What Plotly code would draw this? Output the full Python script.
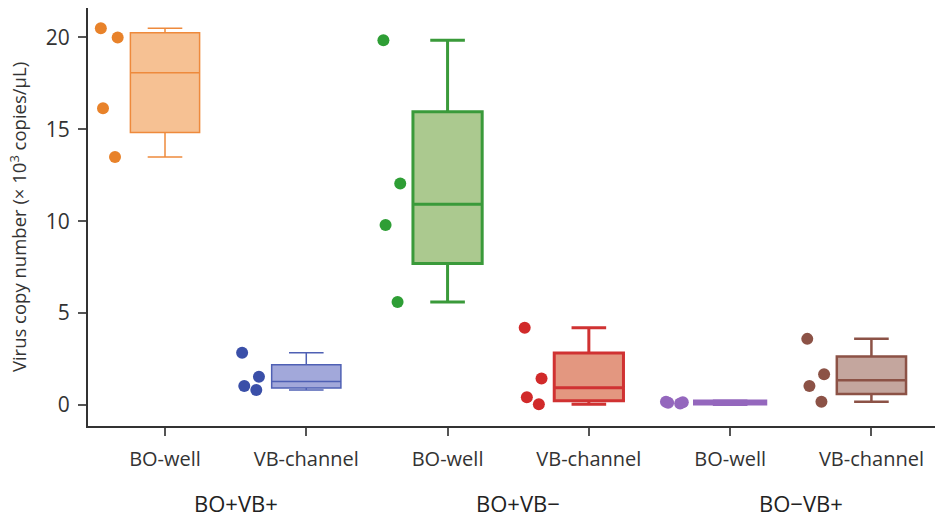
import plotly.graph_objects as go

categories = ["BO-well", "VB-channel", "BO-well", "VB-channel", "BO-well", "VB-channel"]
groups = ["BO+VB+", "BO+VB−", "BO−VB+"]

bo_vb_pos_well = [20.5, 20.0, 16.15, 13.5]
bo_vb_pos_channel = [2.84, 1.54, 1.03, 0.82]
bo_vb_neg_well = [19.85, 12.05, 9.8, 5.6]
bo_vb_neg_channel = [4.2, 1.45, 0.42, 0.04]
bo_neg_vb_well = [0.18, 0.15, 0.12, 0.09]
bo_neg_vb_channel = [3.6, 1.68, 1.03, 0.18]

series = [bo_vb_pos_well, bo_vb_pos_channel, bo_vb_neg_well,
          bo_vb_neg_channel, bo_neg_vb_well, bo_neg_vb_channel]

marker_colors = ["#E8822A", "#3A4FA8", "#2E9E35", "#D12A2A", "#9467BD", "#8C5246"]
line_colors = ["#EE8A3C", "#4F60B4", "#3A9A3A", "#D03232", "#9467BD", "#8C5246"]
fill_colors = ["#F6C193", "#A2A8DA", "#ABC98F", "#E39780", "#9467BD", "#C4A69E"]
line_widths = [1.5, 1.5, 3, 3, 5, 2.5]

fig = go.Figure()
for i, vals in enumerate(series):
    fig.add_trace(go.Box(
        y=vals,
        x=[i] * len(vals),
        width=0.49,
        whiskerwidth=0.5,
        quartilemethod="exclusive",
        boxpoints="all",
        pointpos=-1.6,
        jitter=0.3,
        fillcolor=fill_colors[i],
        line=dict(color=line_colors[i], width=line_widths[i]),
        marker=dict(color=marker_colors[i], size=12, opacity=1),
        showlegend=False,
        hoverinfo="skip",
    ))

for gi, g in enumerate(groups):
    fig.add_annotation(
        x=2 * gi + 0.5, xref="x", y=-0.184, yref="paper",
        yanchor="middle", text=g, showarrow=False,
        font=dict(size=22, color="#222222", family="Open Sans"),
    )

fig.update_layout(
    width=935, height=518,
    margin=dict(l=88, r=0, t=8, b=92),
    plot_bgcolor="white", paper_bgcolor="white",
    boxmode="overlay",
    font=dict(family="Open Sans", color="#333333"),
    xaxis=dict(
        range=[-0.545, 5.45],
        tickmode="array",
        tickvals=list(range(len(categories))),
        ticktext=categories,
        showgrid=False, zeroline=False,
        showline=True, linecolor="#333333", linewidth=2,
        ticks="outside", ticklen=8, tickwidth=1.5, tickcolor="#555555",
        tickfont=dict(size=20, color="#333333"),
        ticklabelstandoff=6,
        automargin=False,
    ),
    yaxis=dict(
        range=[-1.14, 21.6],
        tickvals=[0, 5, 10, 15, 20],
        showgrid=False, zeroline=False,
        showline=True, linecolor="#333333", linewidth=2,
        ticks="outside", ticklen=8, tickwidth=1.5, tickcolor="#555555",
        tickfont=dict(size=21, color="#333333"),
        ticklabelstandoff=4,
        title=dict(text="Virus copy number (× 10<sup>3</sup> copies/μL)",
                   font=dict(size=18.5, color="#333333"), standoff=14),
        automargin=False,
    ),
)

fig.write_html("out.html", config={"displayModeBar": False})
with open("out.html", encoding="utf-8") as f:
    html = f.read()
html = html.replace("<body>", '<body style="margin:0;padding:0;overflow:hidden">', 1)
with open("out.html", "w", encoding="utf-8") as f:
    f.write(html)
